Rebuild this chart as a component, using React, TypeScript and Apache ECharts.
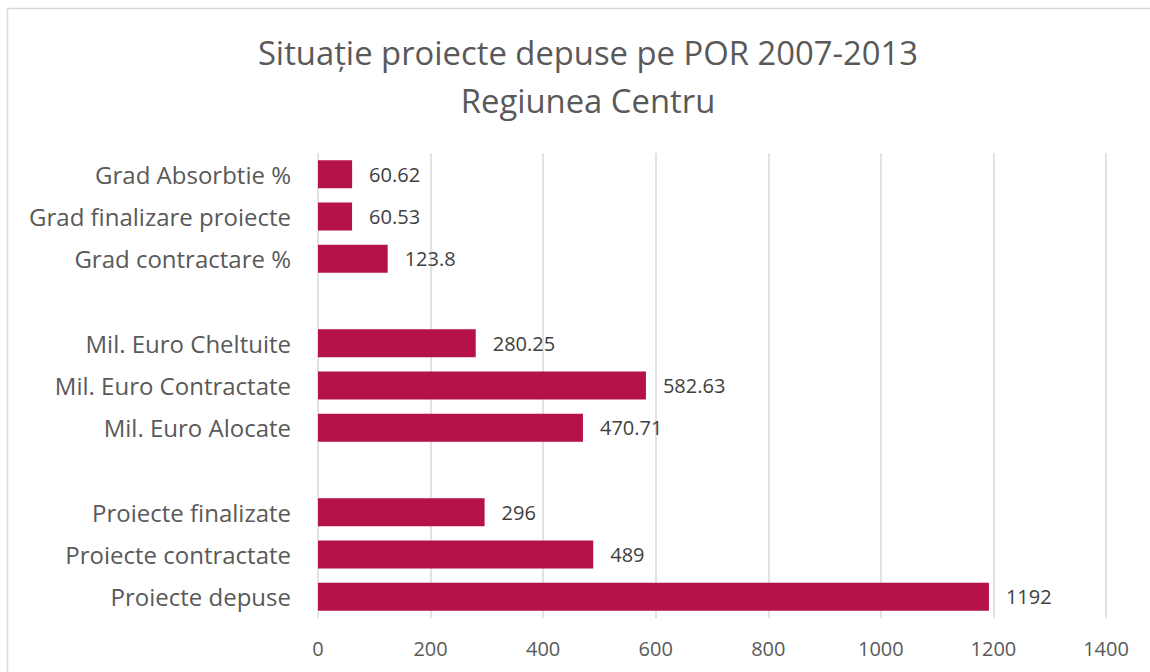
import React, { useEffect, useRef } from "react";
import * as echarts from "echarts";

const categories = [
  "Proiecte depuse",
  "Proiecte contractate",
  "Proiecte finalizate",
  "",
  "Mil. Euro Alocate",
  "Mil. Euro Contractate",
  "Mil. Euro Cheltuite",
  " ",
  "Grad contractare %",
  "Grad finalizare proiecte",
  "Grad Absorbtie %",
];
const values: (number | null)[] = [1192, 489, 296, null, 470.71, 582.63, 280.25, null, 123.8, 60.53, 60.62];
const xTicks = { min: 0, max: 1400, interval: 200 };
const titleLines = ["Situație proiecte depuse pe POR 2007-2013", "Regiunea Centru"];

const FONT = "'Open Sans', sans-serif";

export default function App() {
  const ref = useRef<HTMLDivElement>(null);
  useEffect(() => {
    if (!ref.current) return;
    const chart = echarts.init(ref.current, undefined, { renderer: "svg" });
    chart.setOption({
      animation: false,
      backgroundColor: "#ffffff",
      title: {
        text: titleLines.join("\n"),
        left: 583,
        textAlign: "center",
        top: 23,
        textStyle: { fontFamily: FONT, fontSize: 32.8, fontWeight: "normal", color: "#595959", lineHeight: 48 },
      },
      graphic: [
        {
          type: "rect",
          shape: { x: 7.5, y: 8.5, width: 1300, height: 800 },
          style: { fill: "none", stroke: "#d9d9d9", lineWidth: 1.5 },
          silent: true,
        },
      ],
      grid: { left: 318, right: 44, top: 153, bottom: 54, containLabel: false },
      xAxis: {
        type: "value",
        min: xTicks.min,
        max: xTicks.max,
        interval: xTicks.interval,
        axisLine: { show: false },
        axisTick: { show: false },
        splitLine: { show: true, lineStyle: { color: "#d9d9d9", width: 1.5 } },
        axisLabel: {
          fontFamily: FONT,
          fontSize: 20,
          color: "#595959",
          margin: 20,
          formatter: (v: number) => String(v),
        },
      },
      yAxis: {
        type: "category",
        data: categories,
        axisLine: { show: false },
        axisTick: { show: false },
        axisLabel: { fontFamily: FONT, fontSize: 24, color: "#595959", margin: 27 },
      },
      series: [
        {
          type: "bar",
          data: values,
          barWidth: 28,
          itemStyle: { color: "#b5124b" },
          label: {
            show: true,
            position: "right",
            distance: 17,
            fontFamily: FONT,
            fontSize: 20,
            color: "#404040",
          },
        },
      ],
    });
    return () => chart.dispose();
  }, []);
  return <div ref={ref} style={{ position: "absolute", left: 0, top: 0, width: 1150, height: 672 }} />;
}
